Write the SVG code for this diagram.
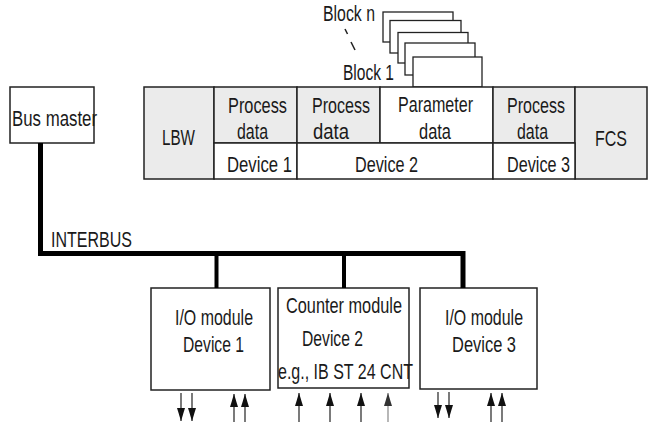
<svg xmlns="http://www.w3.org/2000/svg" width="650" height="422" viewBox="0 0 650 422">
<style>
text{font-family:"Liberation Sans",Arial,sans-serif;font-size:22px;fill:#1a1a1a}
.box{fill:#fff;stroke:#222;stroke-width:1.5}
.g{fill:#ebebeb;stroke:#222;stroke-width:1.5}
.w{fill:#fff;stroke:#222;stroke-width:1.5}
.bus{fill:none;stroke:#000;stroke-width:5;stroke-linejoin:miter}
.drop{stroke:#000;stroke-width:4}
.io{stroke:#222;stroke-width:1.2;marker-end:url(#ah)}
.io2{stroke:#888;stroke-width:1.2;marker-end:url(#ah2)}
.blk{fill:#fff;stroke:#222;stroke-width:1.3}
</style>
<defs>
<marker id="ah" markerUnits="userSpaceOnUse" markerWidth="13" markerHeight="8" refX="13" refY="4" orient="auto"><path d="M0,0 L13,4 L0,8 z" fill="#111"/></marker>
<marker id="ah2" markerUnits="userSpaceOnUse" markerWidth="13" markerHeight="8" refX="13" refY="4" orient="auto"><path d="M0,0 L13,4 L0,8 z" fill="#333"/></marker>
</defs>
<g id="blocks">
<rect class="blk" x="383" y="12" width="70" height="30"/>
<rect class="blk" x="390" y="20.5" width="71" height="32.5"/>
<rect class="blk" x="398" y="32.5" width="70" height="30.5"/>
<rect class="blk" x="405" y="43" width="70" height="32"/>
<rect class="blk" x="413" y="57" width="69" height="30"/>
<text x="323" y="21" textLength="52" lengthAdjust="spacingAndGlyphs">Block n</text>
<line x1="345" y1="29" x2="347.5" y2="34" stroke="#222" stroke-width="1.5"/>
<line x1="351" y1="42" x2="355" y2="50" stroke="#222" stroke-width="1.5"/>
<text x="343" y="80" textLength="51" lengthAdjust="spacingAndGlyphs">Block 1</text>
</g>
<g id="telegram">
<rect class="g" x="144" y="87" width="70" height="92"/>
<rect class="g" x="214" y="87" width="83" height="56"/>
<rect class="g" x="297" y="87" width="83" height="56"/>
<rect class="w" x="380" y="87" width="113" height="56"/>
<rect class="g" x="493" y="87" width="82" height="56"/>
<rect class="g" x="575" y="87" width="72" height="92"/>
<rect class="w" x="214" y="143" width="83" height="36"/>
<rect class="w" x="297" y="143" width="196" height="36"/>
<rect class="w" x="493" y="143" width="82" height="36"/>
<text x="162" y="145" textLength="33" lengthAdjust="spacingAndGlyphs">LBW</text>
<text x="228" y="113" textLength="59" lengthAdjust="spacingAndGlyphs">Process</text>
<text x="237" y="139" textLength="31" lengthAdjust="spacingAndGlyphs">data</text>
<text x="312" y="113" textLength="58" lengthAdjust="spacingAndGlyphs">Process</text>
<text x="313" y="139" textLength="36" lengthAdjust="spacingAndGlyphs">data</text>
<text x="398" y="112" textLength="75" lengthAdjust="spacingAndGlyphs">Parameter</text>
<text x="419" y="139" textLength="32" lengthAdjust="spacingAndGlyphs">data</text>
<text x="507" y="113" textLength="58" lengthAdjust="spacingAndGlyphs">Process</text>
<text x="517" y="139" textLength="31" lengthAdjust="spacingAndGlyphs">data</text>
<text x="595" y="146" textLength="32" lengthAdjust="spacingAndGlyphs">FCS</text>
<text x="227" y="172" textLength="65" lengthAdjust="spacingAndGlyphs">Device 1</text>
<text x="355" y="172" textLength="63" lengthAdjust="spacingAndGlyphs">Device 2</text>
<text x="507" y="172" textLength="63" lengthAdjust="spacingAndGlyphs">Device 3</text>
</g>
<g id="busmaster">
<rect class="box" x="10" y="87" width="84" height="56"/>
<text x="12" y="126" textLength="85" lengthAdjust="spacingAndGlyphs">Bus master</text>
</g>
<g id="module1">
<rect class="box" x="151" y="288" width="119" height="102"/>
<text x="175" y="325" textLength="78" lengthAdjust="spacingAndGlyphs">I/O module</text>
<text x="183" y="352" textLength="61" lengthAdjust="spacingAndGlyphs">Device 1</text>
</g>
<g id="module2">
<rect class="box" x="278" y="288" width="131" height="100"/>
<text x="286" y="313" textLength="116" lengthAdjust="spacingAndGlyphs">Counter module</text>
<text x="302" y="346" textLength="61" lengthAdjust="spacingAndGlyphs">Device 2</text>
<text x="278" y="379" textLength="135" lengthAdjust="spacingAndGlyphs">e.g., IB ST 24 CNT</text>
</g>
<g id="module3">
<rect class="box" x="420" y="288" width="117" height="101"/>
<text x="445" y="325" textLength="78" lengthAdjust="spacingAndGlyphs">I/O module</text>
<text x="452" y="352" textLength="64" lengthAdjust="spacingAndGlyphs">Device 3</text>
</g>
<g id="connectors">
<path class="bus" d="M40.5,143 V253.5 H463 V288"/>
<line class="drop" x1="216.5" y1="253" x2="216.5" y2="288"/>
<line class="drop" x1="344" y1="253" x2="344" y2="288"/>
<text x="51" y="247" textLength="81" lengthAdjust="spacingAndGlyphs">INTERBUS</text>
<line class="io" x1="181" y1="393" x2="181" y2="421"/>
<line class="io" x1="192" y1="393" x2="192" y2="421"/>
<line class="io" x1="234" y1="422" x2="234" y2="394"/>
<line class="io" x1="245" y1="422" x2="245" y2="394"/>
<line class="io" x1="299" y1="422" x2="299" y2="393"/>
<line class="io" x1="330" y1="422" x2="330" y2="393"/>
<line class="io" x1="361" y1="422" x2="361" y2="393"/>
<line class="io2" x1="388" y1="422" x2="388" y2="393"/>
<line class="io" x1="438" y1="392" x2="438" y2="418"/>
<line class="io" x1="449" y1="392" x2="449" y2="418"/>
<line class="io" x1="491" y1="422" x2="491" y2="393"/>
<line class="io" x1="502" y1="422" x2="502" y2="393"/>
</g>
</svg>
